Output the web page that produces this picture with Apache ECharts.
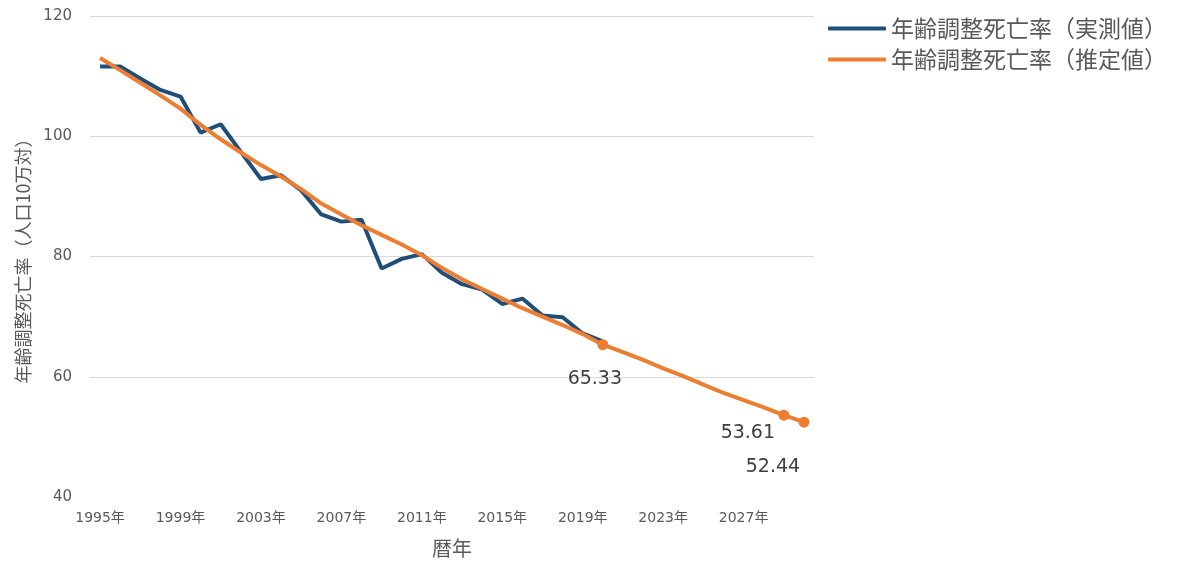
<!DOCTYPE html>
<html>
<head>
<meta charset="utf-8">
<script src="https://cdn.jsdelivr.net/npm/echarts@6/dist/echarts.min.js"></script>
<style>html,body{margin:0;padding:0;background:#fff}#c{width:1195px;height:565px}</style>
</head>
<body>
<div id="c"></div>
<script>
const years = ["1995","1996","1997","1998","1999","2000","2001","2002","2003","2004","2005","2006","2007","2008","2009","2010","2011","2012","2013","2014","2015","2016","2017","2018","2019","2020","2021","2022","2023","2024","2025","2026","2027","2028","2029","2030"];
const actualValues = [111.6,111.6,109.6,107.7,106.6,100.6,102.0,97.4,92.9,93.5,91.0,87.0,85.8,86.1,78.0,79.6,80.4,77.3,75.4,74.5,72.1,73.0,70.2,69.9,67.2,65.9];
const estimatedValues = [113.0,111.0,108.9,106.8,104.6,101.9,99.5,97.3,95.2,93.3,91.2,88.8,87.0,85.2,83.6,82.0,80.2,78.1,76.2,74.6,73.0,71.4,70.0,68.6,67.1,65.33,64.1,62.8,61.4,60.1,58.7,57.3,56.1,54.9,53.61,52.44];
const labeledYears = ["2020","2029","2030"];
const seriesNames = ["年齢調整死亡率（実測値）","年齢調整死亡率（推定値）"];

const labelOffsets = {"2020":[-8,34],"2029":[-36,18],"2030":[-31,45]};
const cjk = '"Noto Sans CJK JP", sans-serif';
const num = '"DejaVu Sans", "Noto Sans CJK JP", sans-serif';

const estData = estimatedValues.map((v, i) => {
  const y = years[i];
  if (labeledYears.indexOf(y) >= 0) {
    return {
      value: v,
      symbol: 'circle',
      symbolSize: 11,
      label: {
        show: true,
        position: 'inside',
        offset: labelOffsets[y],
        formatter: v.toFixed(2),
        color: '#404040',
        fontSize: 19,
        fontFamily: num
      }
    };
  }
  return { value: v, symbol: 'none' };
});

const chart = echarts.init(document.getElementById('c'), null, {renderer: 'canvas'});
chart.setOption({
  animation: false,
  textStyle: { fontFamily: cjk },
  grid: { left: 90, right: 381, top: 16, bottom: 68, containLabel: false },
  legend: {
    orient: 'vertical',
    left: 823,
    top: 12,
    itemWidth: 58,
    itemHeight: 4,
    itemGap: 8,
    icon: 'roundRect',
    textStyle: { fontSize: 23, color: '#595959', fontFamily: cjk },
    data: seriesNames
  },
  xAxis: {
    type: 'category',
    data: years,
    boundaryGap: true,
    name: '暦年',
    nameLocation: 'middle',
    nameGap: 41,
    nameTextStyle: { fontSize: 20, color: '#595959', fontFamily: cjk },
    axisLine: { show: false },
    axisTick: { show: false },
    axisLabel: {
      interval: 3,
      formatter: v => v + '年',
      fontSize: 14,
      fontFamily: num,
      color: '#595959',
      margin: 14
    }
  },
  yAxis: {
    type: 'value',
    min: 40,
    max: 120,
    interval: 20,
    name: '年齢調整死亡率（人口10万対）',
    nameLocation: 'middle',
    nameGap: 58,
    nameTextStyle: { fontSize: 18, color: '#595959', fontFamily: cjk },
    axisLine: { show: false },
    axisTick: { show: false },
    axisLabel: { fontSize: 15, fontFamily: num, color: '#595959', margin: 18 },
    splitLine: { showMinLine: false, lineStyle: { color: '#d9d9d9', width: 1 } }
  },
  series: [
    {
      name: seriesNames[0],
      type: 'line',
      data: actualValues,
      symbol: 'none',
      lineStyle: { color: '#1f4e79', width: 4 },
      itemStyle: { color: '#1f4e79' }
    },
    {
      name: seriesNames[1],
      type: 'line',
      data: estData,
      lineStyle: { color: '#ed7d31', width: 4 },
      itemStyle: { color: '#ed7d31' }
    }
  ]
});
</script>
</body>
</html>
